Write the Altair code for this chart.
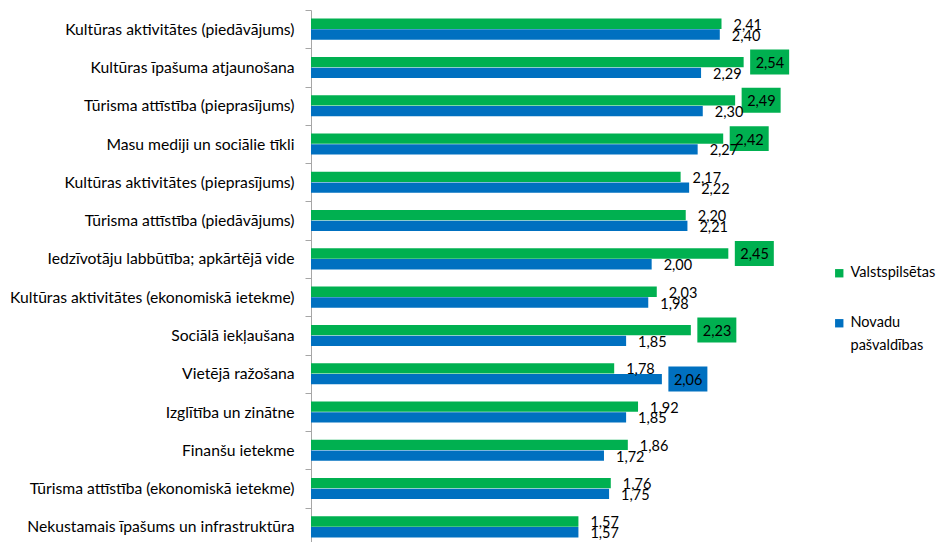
import altair as alt
import pandas as pd

categories = [
    "Kultūras aktivitātes (piedāvājums)",
    "Kultūras īpašuma atjaunošana",
    "Tūrisma attīstība (pieprasījums)",
    "Masu mediji un sociālie tīkli",
    "Kultūras aktivitātes (pieprasījums)",
    "Tūrisma attīstība (piedāvājums)",
    "Iedzīvotāju labbūtība; apkārtējā vide",
    "Kultūras aktivitātes (ekonomiskā ietekme)",
    "Sociālā iekļaušana",
    "Vietējā ražošana",
    "Izglītība un zinātne",
    "Finanšu ietekme",
    "Tūrisma attīstība (ekonomiskā ietekme)",
    "Nekustamais īpašums un infrastruktūra",
]
valsts = [2.41, 2.54, 2.49, 2.42, 2.17, 2.20, 2.45, 2.03, 2.23, 1.78, 1.92, 1.86, 1.76, 1.57]
novadu = [2.40, 2.29, 2.30, 2.27, 2.22, 2.21, 2.00, 1.98, 1.85, 2.06, 1.85, 1.72, 1.75, 1.57]
valsts_hl = [False, True, True, True, False, False, True, False, True, False, False, False, False, False]
novadu_hl = [False, False, False, False, False, False, False, False, False, True, False, False, False, False]

series = ["Valstspilsētas", "Novadu pašvaldības"]
colors = ["#00B050", "#0070C0"]

rows = []
for i, c in enumerate(categories):
    for s, vals, hls in [(series[0], valsts, valsts_hl), (series[1], novadu, novadu_hl)]:
        v = vals[i]
        rows.append({"cat": c, "series": s, "value": v,
                     "label": f"{v:.2f}".replace(".", ","), "hl": hls[i]})
df = pd.DataFrame(rows)

FONT = "Lato"

y_enc = alt.Y("cat:N", sort=categories,
              scale=alt.Scale(paddingInner=0, paddingOuter=0),
              axis=alt.Axis(title=None, tickBand="extent", domainColor="#A6A6A6",
                            tickColor="#A6A6A6", tickSize=6, labelPadding=11,
                            labelFontSize=15.7, labelColor="#000000", labelFont=FONT,
                            labelLimit=400, grid=False))
yoff = alt.YOffset("series:N", sort=series,
                   scale=alt.Scale(paddingInner=0.04, paddingOuter=0.8))
x_enc = alt.X("value:Q", scale=alt.Scale(domain=[0, 3]), axis=None)
color_enc = alt.Color("series:N", sort=series,
                      scale=alt.Scale(domain=series, range=colors),
                      legend=alt.Legend(title=None, orient="none", legendX=521, legendY=256,
                                        symbolType="square", symbolSize=70,
                                        symbolStrokeWidth=0,
                                        labelFontSize=14.5, labelFont=FONT, labelColor="#000000",
                                        rowPadding=35, padding=0, labelOffset=4,
                                        labelLimit=200,
                                        labelExpr="datum.label == 'Novadu pašvaldības' ? ['Novadu', 'pašvaldības'] : datum.label"))

bars = alt.Chart(df).mark_bar().encode(y=y_enc, yOffset=yoff, x=x_enc, color=color_enc)

boxes = alt.Chart(df).transform_filter("datum.hl").mark_point(
    shape="M-1,-0.64L1,-0.64L1,0.64L-1,0.64Z", size=1521, filled=True, opacity=1,
    xOffset=26).encode(
    y=y_enc, yOffset=yoff, x=x_enc,
    color=alt.Color("series:N", sort=series, scale=alt.Scale(domain=series, range=colors), legend=None))

texts = alt.Chart(df).mark_text(align="left", baseline="middle", dx=12, dy=2, fontSize=14.5,
                                font=FONT, color="#000000").encode(
    y=y_enc, yOffset=yoff, x=x_enc, text="label:N")

chart = alt.layer(bars, boxes, texts).properties(
    width=511, height=536,
    autosize=alt.AutoSizeParams(type="none"),
    padding={"left": 303, "top": 2, "right": 115, "bottom": 0},
    background="white",
).configure(
    view=alt.ViewConfig(stroke="transparent"),
    style={"guide-label": {"lineHeight": 23}},
)

chart.save("out.html", embed_options={"renderer": "svg", "actions": False})
